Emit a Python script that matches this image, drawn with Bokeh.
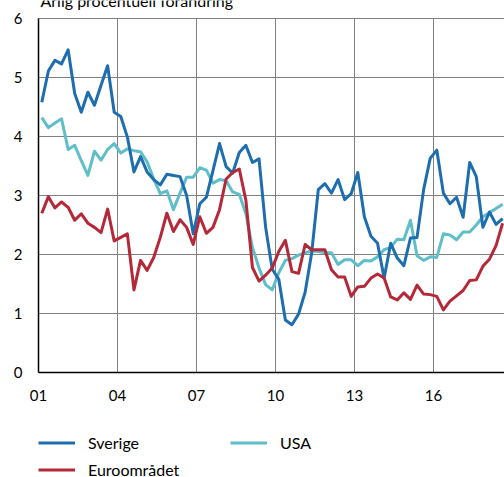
from bokeh.plotting import figure
from bokeh.models import Legend, LegendItem
from bokeh.core.properties import value
from bokeh.embed import file_html
from bokeh.resources import INLINE

title_text = "Årlig procentuell förändring"
tick_years = [2001, 2004, 2007, 2010, 2013, 2016]
tick_labels = ["01", "04", "07", "10", "13", "16"]
y_ticks = [0, 1, 2, 3, 4, 5, 6]
y_labels = ["0", "1", "2", "3", "4", "5", "6"]
start_year = 2001  # first quarter 2001 Q1, quarterly data

sverige = [4.58, 5.11, 5.29, 5.23, 5.47, 4.73, 4.41, 4.75, 4.53, 4.87,
           5.20, 4.41, 4.34, 3.99, 3.40, 3.66, 3.40, 3.27, 3.18, 3.36,
           3.34, 3.32, 3.00, 2.35, 2.86, 2.97, 3.42, 3.88, 3.49, 3.38,
           3.73, 3.85, 3.56, 3.62, 2.46, 1.75, 1.58, 0.89, 0.81, 0.99,
           1.36, 2.03, 3.10, 3.20, 3.04, 3.27, 2.93, 3.03, 3.39, 2.64,
           2.31, 2.19, 1.60, 2.19, 1.94, 1.81, 2.28, 2.29, 3.10, 3.63,
           3.77, 3.04, 2.86, 2.97, 2.63, 3.56, 3.32, 2.46, 2.72, 2.51,
           2.61]

usa = [4.32, 4.15, 4.23, 4.30, 3.78, 3.85, 3.59, 3.34, 3.75, 3.60,
       3.78, 3.88, 3.72, 3.79, 3.76, 3.74, 3.57, 3.28, 3.03, 3.08,
       2.76, 3.04, 3.31, 3.31, 3.47, 3.43, 3.21, 3.27, 3.25, 3.06,
       3.02, 2.69, 2.12, 1.77, 1.49, 1.40, 1.69, 1.90, 1.93, 1.99,
       2.03, 2.06, 2.05, 2.03, 2.03, 1.83, 1.91, 1.91, 1.81, 1.90,
       1.89, 1.96, 2.08, 2.12, 2.26, 2.25, 2.58, 1.98, 1.90, 1.96,
       1.95, 2.35, 2.33, 2.25, 2.38, 2.38, 2.50, 2.64, 2.71, 2.78,
       2.85]

euro = [2.70, 2.98, 2.79, 2.89, 2.80, 2.58, 2.69, 2.53, 2.46, 2.37,
        2.77, 2.23, 2.29, 2.35, 1.40, 1.90, 1.73, 1.95, 2.29, 2.70,
        2.39, 2.59, 2.46, 2.17, 2.64, 2.36, 2.46, 2.76, 3.28, 3.39,
        3.45, 2.92, 1.78, 1.55, 1.65, 1.77, 2.05, 2.24, 1.71, 1.68,
        2.17, 2.08, 2.08, 2.08, 1.74, 1.62, 1.62, 1.29, 1.45, 1.46,
        1.60, 1.67, 1.60, 1.28, 1.23, 1.35, 1.24, 1.48, 1.33, 1.32,
        1.29, 1.06, 1.21, 1.30, 1.39, 1.56, 1.57, 1.80, 1.92, 2.15,
        2.53]

quarters = [start_year + (i + 0.5) / 4 for i in range(len(sverige))]

FONT = value("Lato")
C_SE = "#1e6eaf"
C_US = "#5fbec8"
C_EU = "#b42837"
GRID = "#808080"

W, H = 504, 477
PX_YEAR = 79 / 3.0      # pixels per year
PX_UNIT = 59.0          # pixels per percentage point
LEFT, TOP, BOTTOM = 38, 18, 372   # plot area edges in pixels
x0 = 2001 - LEFT / PX_YEAR
x1 = 2001 + (W - LEFT) / PX_YEAR
y1 = 6 + TOP / PX_UNIT
y0 = -(H - BOTTOM) / PX_UNIT

p = figure(width=W, height=H, output_backend="svg", toolbar_location=None,
           x_range=(x0, x1), y_range=(y0, y1),
           x_axis_location=None, y_axis_location=None, min_border=0)
p.outline_line_color = None
p.background_fill_color = "white"
p.border_fill_color = "white"
p.grid.visible = False

n_y = len(y_ticks)
n_x = len(tick_years)
# horizontal grid lines
p.segment(x0=[2001] * n_y, y0=y_ticks, x1=[x1 + 1] * n_y, y1=y_ticks,
          line_color=GRID, line_width=1)
# vertical grid lines
p.segment(x0=tick_years, y0=[0] * n_x, x1=tick_years, y1=[6] * n_x,
          line_color=GRID, line_width=1)
# axis lines
p.segment(x0=[2001, 2001], y0=[0, 0], x1=[2001, x1 + 1], y1=[6, 0],
          line_color="black", line_width=1.5)

# tick labels
p.text(x=tick_years, y=[0] * n_x, text=tick_labels, text_font=FONT,
       text_font_size="15px", text_color="black", text_align="center",
       text_baseline="middle", y_offset=23)
p.text(x=[2001] * n_y, y=y_ticks, text=y_labels, text_font=FONT,
       text_font_size="15px", text_color="black", text_align="right",
       text_baseline="middle", x_offset=-16)
# title (partly above the visible area, as in the original)
p.text(x=[2001], y=[6], text=[title_text], text_font=FONT,
       text_font_size="16px", text_color="black", text_align="left",
       text_baseline="alphabetic", x_offset=2, y_offset=-18)

r_us = p.line(quarters, usa, line_color=C_US, line_width=3, line_join="round")
r_se = p.line(quarters, sverige, line_color=C_SE, line_width=3, line_join="round")
r_eu = p.line(quarters, euro, line_color=C_EU, line_width=3, line_join="round")

common = dict(padding=0, margin=0, border_line_alpha=0, background_fill_alpha=0,
              label_text_font="Lato", label_text_font_size="16px",
              label_text_color="black", glyph_width=37, glyph_height=21,
              label_height=21, label_standoff=13, spacing=6)
leg_a = Legend(items=[LegendItem(label="Sverige", renderers=[r_se]),
                      LegendItem(label="Euroområdet", renderers=[r_eu])],
               location=(38, -3), **common)
leg_b = Legend(items=[LegendItem(label="USA", renderers=[r_us])],
               location=(230, 24), **common)
p.add_layout(leg_a)
p.add_layout(leg_b)

open("out.html", "w").write(file_html(p, INLINE))
